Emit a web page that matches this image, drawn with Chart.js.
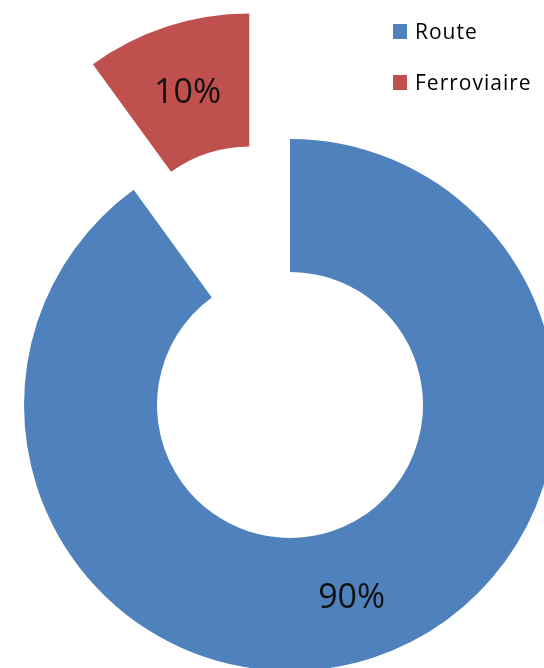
<!DOCTYPE html>
<html>
<head>
<meta charset="utf-8">
<script src="https://cdn.jsdelivr.net/npm/chart.js@4"></script>
<style>
  html, body { margin: 0; padding: 0; background: #fff; }
  #wrap { position: relative; width: 544px; height: 668px; overflow: hidden; }
  #legend { position: absolute; left: 393px; top: 20px; font-family: 'Open Sans', sans-serif; font-size: 21px; letter-spacing: 1px; color: #000; }
  #legend .item { display: flex; align-items: center; height: 22px; margin-bottom: 29px; }
  #legend .box { width: 14px; height: 15px; margin-right: 8px; }
</style>
</head>
<body>
<div id="wrap">
  <canvas id="mode-chart"></canvas>
  <div id="legend"></div>
</div>
<script>
const modes   = ['Route', 'Ferroviaire'];
const shares  = [90, 10];
const colors  = ['#4F81BD', '#C0504D'];
const explode = [0, 132];   // px, slice pulled out like in the original

// push exploded slices out along their mid angle
const explodePlugin = {
  id: 'explode',
  afterDatasetsUpdate(chart) {
    const meta = chart.getDatasetMeta(0);
    meta.data.forEach((arc, i) => {
      const d = explode[i] || 0;
      if (!d) return;
      const mid = (arc.startAngle + arc.endAngle) / 2;
      arc.x += Math.cos(mid) * d;
      arc.y += Math.sin(mid) * d;
    });
  }
};

// percentage labels in the middle of each ring slice
const pctPlugin = {
  id: 'pct',
  afterDatasetsDraw(chart) {
    const ctx = chart.ctx;
    const meta = chart.getDatasetMeta(0);
    const total = shares.reduce((s, v) => s + v, 0);
    ctx.save();
    ctx.font = '34px "Open Sans", sans-serif';
    ctx.fillStyle = '#111';
    ctx.textAlign = 'center';
    ctx.textBaseline = 'middle';
    meta.data.forEach((arc, i) => {
      const p = arc.tooltipPosition();
      ctx.fillText(Math.round(shares[i] / total * 100) + '%', p.x, p.y + 4);
    });
    ctx.restore();
  }
};

const chart = new Chart(document.getElementById('mode-chart').getContext('2d'), {
  type: 'doughnut',
  data: {
    labels: modes,
    datasets: [{ data: shares, backgroundColor: colors, borderWidth: 0, clip: false }]
  },
  options: {
    responsive: true,
    maintainAspectRatio: false,
    animation: false,
    radius: 266,
    cutout: '50%',
    layout: { padding: { left: 36, right: 0, top: 142, bottom: 0 } },
    plugins: { legend: { display: false }, tooltip: { enabled: false } }
  },
  plugins: [explodePlugin, pctPlugin]
});

function buildLegend() {
  const el = document.getElementById('legend');
  chart.data.labels.forEach((lab, i) => {
    const item = document.createElement('div');
    item.className = 'item';
    const box = document.createElement('span');
    box.className = 'box';
    box.style.background = chart.data.datasets[0].backgroundColor[i];
    const txt = document.createElement('span');
    txt.textContent = lab;
    item.appendChild(box);
    item.appendChild(txt);
    el.appendChild(item);
  });
}
buildLegend();
</script>
</body>
</html>
